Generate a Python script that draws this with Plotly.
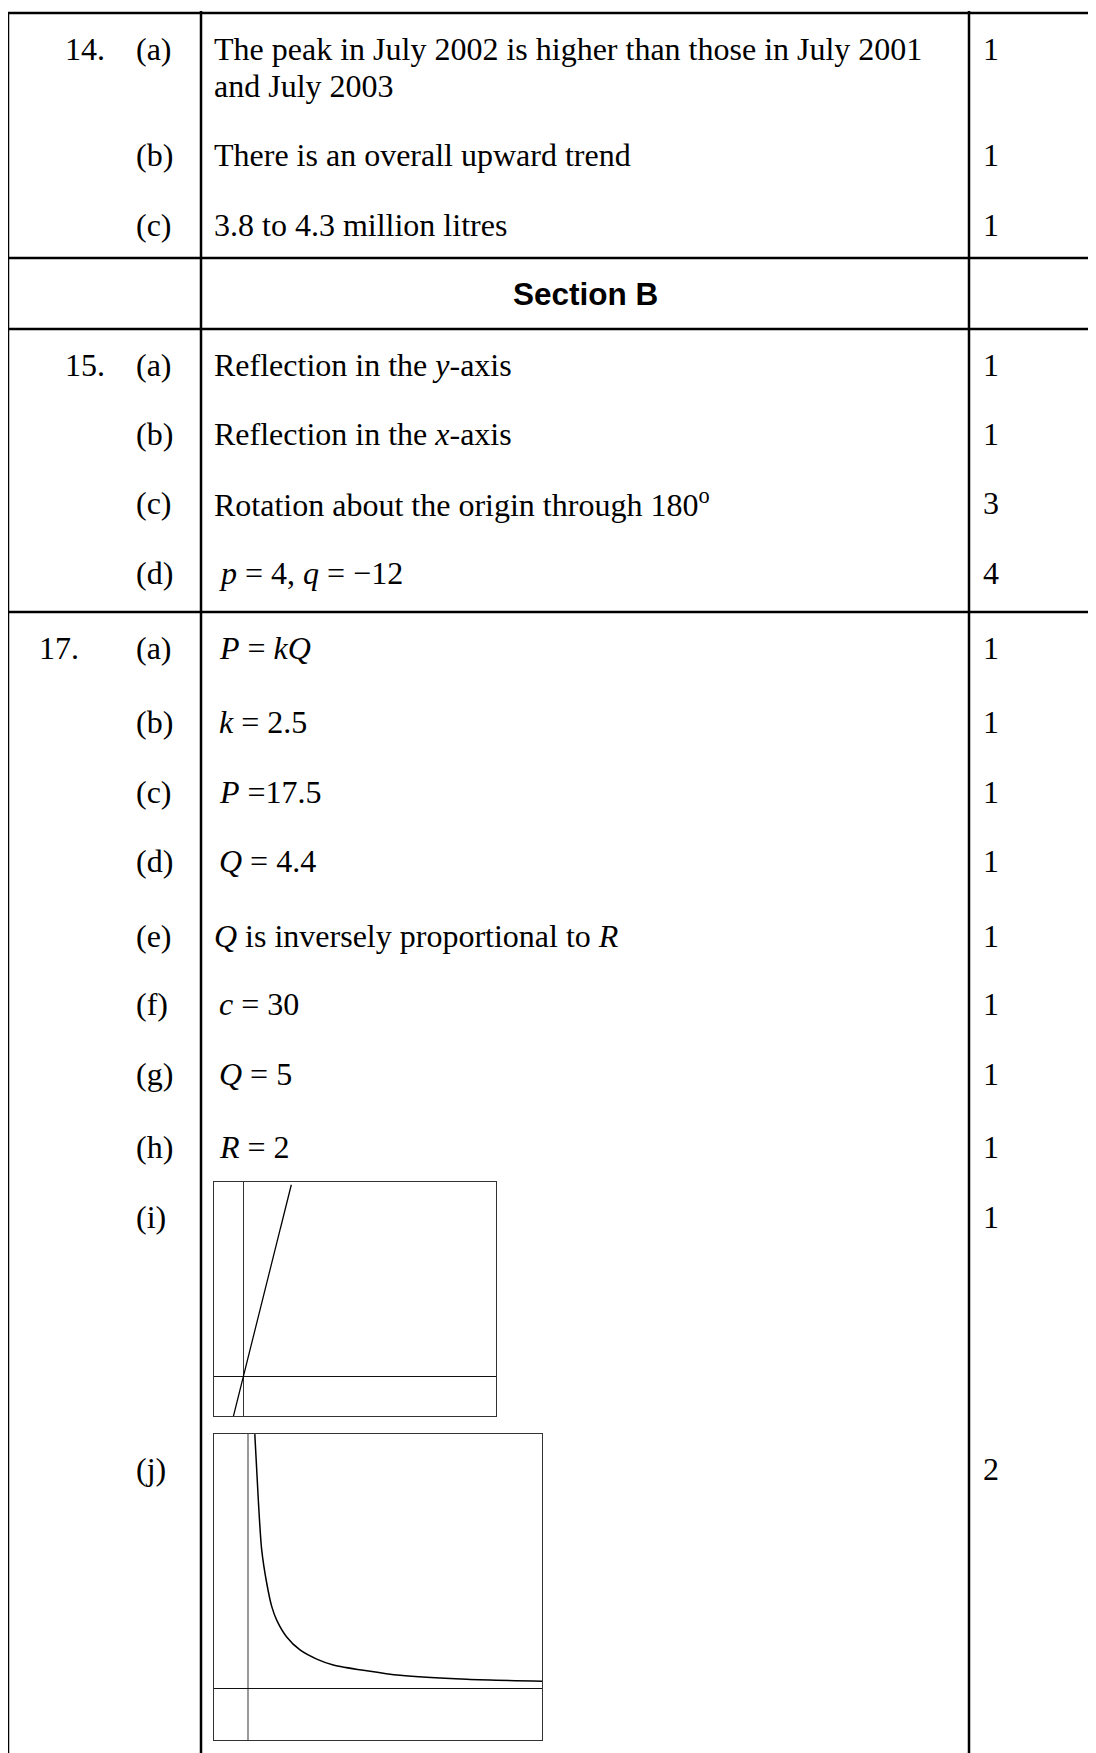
import plotly.graph_objects as go

# ---- table content ----
question_labels = ["14.", "", "", "15.", "", "", "", "17.", "", "", "", "", "", "", "", "", ""]
part_labels = ["(a)", "(b)", "(c)",
               "(a)", "(b)", "(c)", "(d)",
               "(a)", "(b)", "(c)", "(d)", "(e)", "(f)", "(g)", "(h)", "(i)", "(j)"]
answers = [
    "The peak in July 2002 is higher than those in July 2001<br>and July 2003",
    "There is an overall upward trend",
    "3.8 to 4.3 million litres",
    "Reflection in the <i>y</i>-axis",
    "Reflection in the <i>x</i>-axis",
    "Rotation about the origin through 180<sup>o</sup>",
    "<i>p</i> = 4, <i>q</i> = \u221212",
    "<i>P</i> = <i>kQ</i>",
    "<i>k</i> = 2.5",
    "<i>P</i> =17.5",
    "<i>Q</i> = 4.4",
    "<i>Q</i> is inversely proportional to <i>R</i>",
    "<i>c</i> = 30",
    "<i>Q</i> = 5",
    "<i>R</i> = 2",
    "",
    "",
]
marks = ["1", "1", "1", "1", "1", "3", "4", "1", "1", "1", "1", "1", "1", "1", "1", "1", "2"]
section_title = "Section B"

# ---- sketch (i): P = kQ ----
sketch_i_q = [-1.0, 4.8]
sketch_i_p = [-2.5, 12.0]

# ---- sketch (j): Q against R ----
sketch_j_r = [0.65, 1.0, 1.34, 1.84, 2.34, 2.84, 3.84, 5.17, 6.84, 8.5, 11.84, 15.17, 21.84, 29.4]
sketch_j_q = [39.1, 29.0, 21.3, 16.2, 12.6, 10.5, 7.9, 5.9, 4.5, 3.6, 2.7, 2.0, 1.4, 1.1]

# ---- layout (page pixels; the page body has an 8px margin) ----
OFF = 8
PAGE_W, PAGE_H = 1096, 1753
W, H = PAGE_W - OFF, PAGE_H - OFF
row_y = [49, 155, 225, 365, 434, 503, 573, 648, 722, 792, 861, 936, 1004, 1074, 1147, 1217, 1469]
line_gap = 37
hlines_y = [13, 258, 329, 612]
vlines_x = [8, 201, 969]
section_y = 294
qlabel_x = {"14.": 65, "15.": 65, "17.": 39}
part_x = 136
answer_x = 214
mark_x = 991
box_i = [214.3, 495.7, 1181.7, 1416]
box_j = [214.3, 542.3, 1434, 1740]

serif = dict(family="Liberation Serif, Times New Roman, serif", size=32, color="black")
sans_bold = dict(family="Liberation Sans, Arial, sans-serif", size=31.5, color="black")

fig = go.Figure()

fig.add_trace(go.Scatter(x=sketch_i_q, y=sketch_i_p, mode="lines",
                         line=dict(color="black", width=1.3),
                         xaxis="x2", yaxis="y2", showlegend=False, hoverinfo="skip"))
fig.add_trace(go.Scatter(x=sketch_j_r, y=sketch_j_q, mode="lines",
                         line=dict(color="black", width=1.5, shape="spline", smoothing=0.8),
                         xaxis="x3", yaxis="y3", showlegend=False, hoverinfo="skip"))

shapes = []
for y in hlines_y:
    shapes.append(dict(type="line", xref="x", yref="y", x0=vlines_x[0], x1=PAGE_W, y0=y, y1=y,
                       line=dict(color="black", width=2.5)))
for i, x in enumerate(vlines_x):
    shapes.append(dict(type="line", xref="x", yref="y", x0=x, x1=x,
                       y0=hlines_y[0] if i == 0 else 11, y1=PAGE_H,
                       line=dict(color="black", width=2.5)))

annotations = []


def txt(x, y, s, anchor="left", font=serif):
    annotations.append(dict(x=x, y=y, xref="x", yref="y", text=s, showarrow=False,
                            xanchor=anchor, yanchor="middle", font=font,
                            borderpad=0, borderwidth=0))


for q, p, a, m, y in zip(question_labels, part_labels, answers, marks, row_y):
    if q:
        txt(qlabel_x[q], y, q)
    txt(part_x, y, p)
    for k, line in enumerate(a.split("<br>")):
        if line:
            txt(answer_x + (5 if line.startswith("<i>") and "=" in line else 0),
                y + k * line_gap, line)
    txt(mark_x, y, m, anchor="center")

txt((vlines_x[1] + vlines_x[2]) / 2, section_y, "<b>" + section_title + "</b>", "center", sans_bold)


def dom_x(b):
    return [(b[0] - OFF) / W, (b[1] - OFF) / W]


def dom_y(b):
    return [(PAGE_H - b[3]) / H, (PAGE_H - b[2]) / H]


inset_axis = dict(showgrid=False, showticklabels=False, ticks="", showline=True, mirror=True,
                  linecolor="#333", linewidth=1.2, zeroline=True, zerolinewidth=1.2)

fig.update_layout(
    width=W, height=H, autosize=False,
    margin=dict(l=0, r=0, t=0, b=0, pad=0),
    paper_bgcolor="white", plot_bgcolor="rgba(0,0,0,0)",
    showlegend=False,
    xaxis=dict(range=[OFF, PAGE_W], domain=[0, 1], visible=False, fixedrange=True),
    yaxis=dict(range=[PAGE_H, OFF], domain=[0, 1], visible=False, fixedrange=True),
    xaxis2=dict(inset_axis, domain=dom_x(box_i), anchor="y2", range=[-2.9, 25.24],
                zerolinecolor="#333"),
    yaxis2=dict(inset_axis, domain=dom_y(box_i), anchor="x2", range=[-2.46, 12.19],
                zerolinecolor="#111"),
    xaxis3=dict(inset_axis, domain=dom_x(box_j), anchor="y3", range=[-3.4, 29.4],
                zerolinecolor="#999", zerolinewidth=1.5),
    yaxis3=dict(inset_axis, domain=dom_y(box_j), anchor="x3", range=[-7.95, 39.12],
                zerolinecolor="#111"),
    shapes=shapes,
    annotations=annotations,
)

fig.write_html("out.html")
